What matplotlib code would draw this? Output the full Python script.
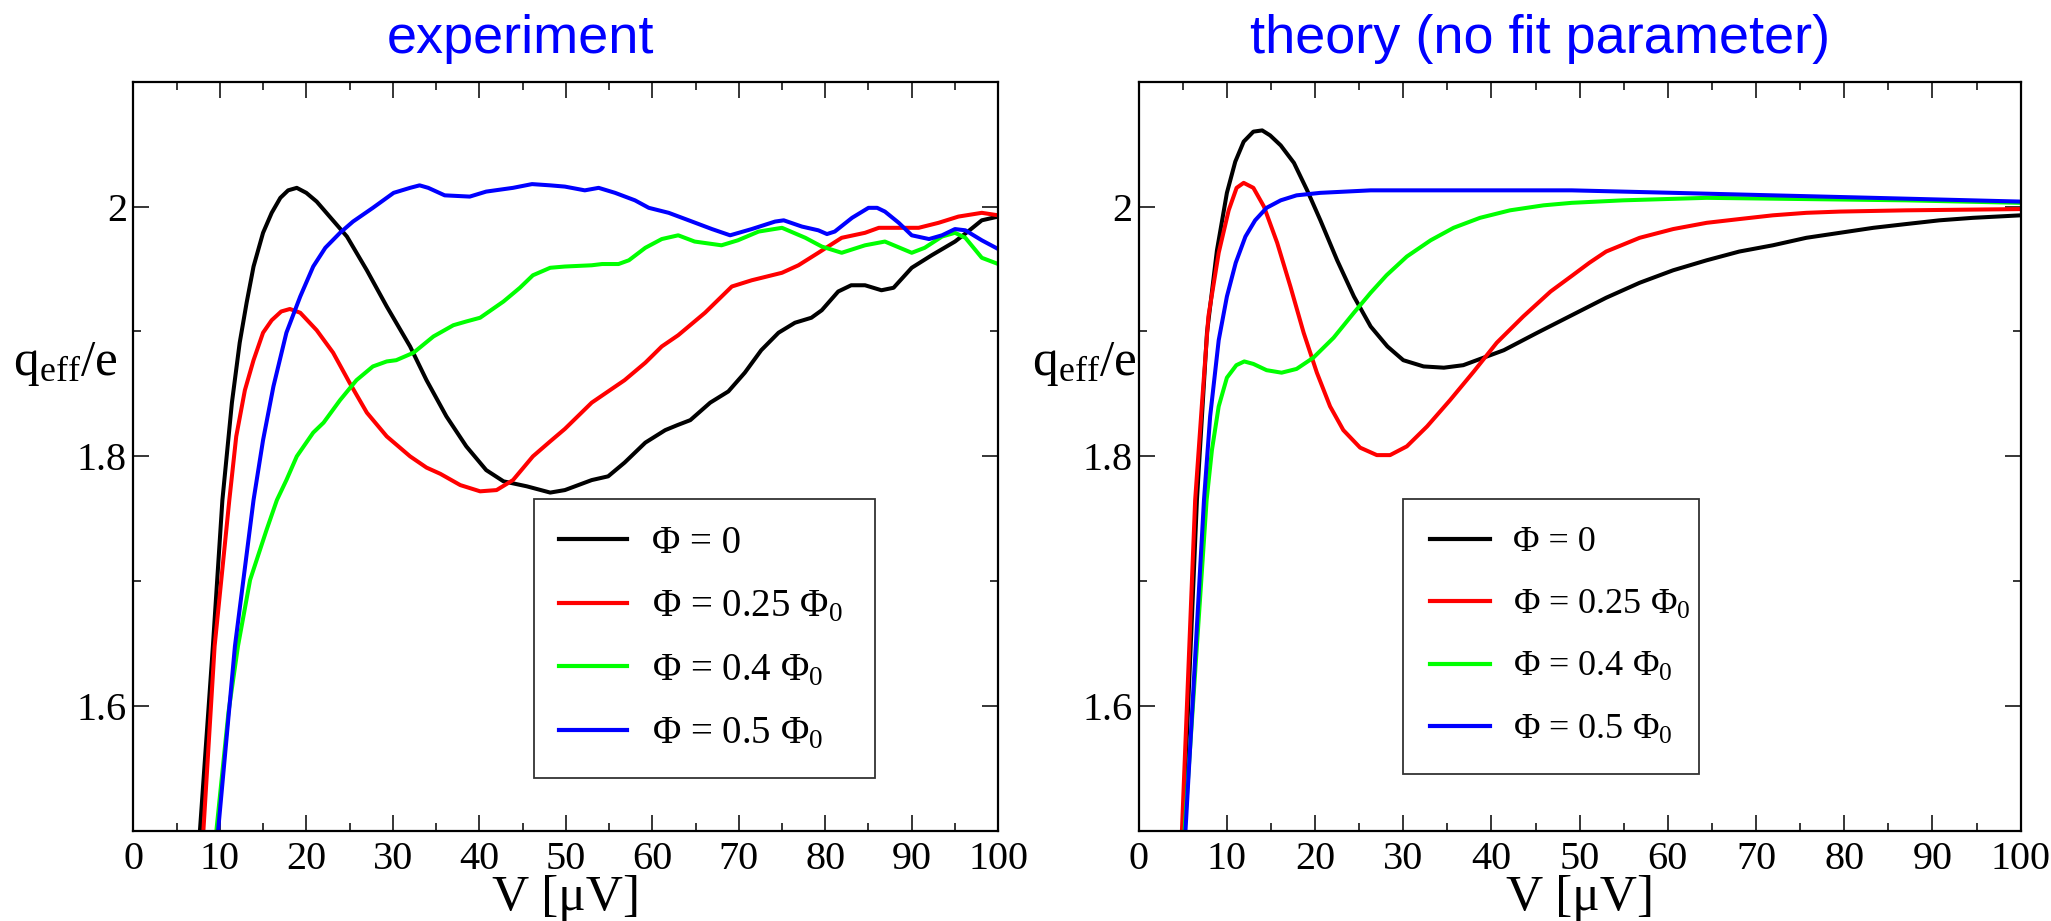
import matplotlib
matplotlib.use('Agg')
import matplotlib.pyplot as plt
from matplotlib.ticker import MultipleLocator

plt.rcParams['font.family'] = ['Liberation Serif', 'DejaVu Serif']
plt.rcParams['mathtext.fontset'] = 'custom'
plt.rcParams['mathtext.rm'] = 'Liberation Serif'
plt.rcParams['mathtext.it'] = 'Liberation Serif:italic'

# ---- experiment ----
exp_v_phi0 = [7.7, 9.2, 10.3, 11.4, 12.3, 13.1, 13.9, 15.0, 16.0, 17.0, 17.9, 18.9, 20.0, 21.2,
              22.7, 24.7, 27.0, 29.3, 32.0, 33.9, 36.2, 38.5, 40.8, 42.8, 45.5, 48.2, 49.9, 53.0,
              54.9, 56.8, 59.2, 61.5, 62.9, 64.4, 66.7, 68.8, 70.7, 72.6, 74.6, 76.5, 78.4, 79.6,
              81.5, 83.0, 84.6, 86.5, 87.9, 90.0, 92.3, 95.0, 96.5, 98.1, 100.0]
exp_q_phi0 = [1.500, 1.648, 1.765, 1.843, 1.891, 1.923, 1.952, 1.979, 1.995, 2.007, 2.013, 2.015, 2.011, 2.004,
              1.992, 1.976, 1.949, 1.920, 1.888, 1.861, 1.832, 1.808, 1.789, 1.780, 1.776, 1.771, 1.773, 1.781,
              1.784, 1.795, 1.811, 1.821, 1.825, 1.829, 1.843, 1.852, 1.867, 1.885, 1.899, 1.907, 1.911, 1.917,
              1.932, 1.937, 1.937, 1.933, 1.935, 1.951, 1.961, 1.972, 1.980, 1.989, 1.992]

exp_v_phi025 = [8.1, 9.4, 11.1, 11.9, 12.9, 13.9, 15.0, 16.0, 17.1, 18.1, 19.3, 21.2, 23.1, 25.0,
                27.0, 29.3, 32.0, 33.9, 35.5, 37.8, 40.1, 42.0, 43.9, 46.2, 48.2, 49.9, 53.0, 56.8,
                59.2, 61.1, 63.0, 66.1, 69.2, 71.5, 75.0, 76.9, 79.2, 81.9, 84.6, 86.2, 90.8, 93.1,
                95.4, 98.1, 100.0]
exp_q_phi025 = [1.500, 1.648, 1.765, 1.816, 1.853, 1.877, 1.899, 1.909, 1.916, 1.918, 1.915, 1.901, 1.883, 1.859,
                1.835, 1.816, 1.800, 1.791, 1.786, 1.777, 1.772, 1.773, 1.781, 1.800, 1.812, 1.822, 1.843, 1.861,
                1.875, 1.888, 1.897, 1.915, 1.936, 1.941, 1.947, 1.953, 1.963, 1.975, 1.979, 1.983, 1.983, 1.987,
                1.992, 1.995, 1.993]

exp_v_phi04 = [9.6, 11.0, 12.1, 13.5, 15.4, 16.6, 17.7, 18.9, 20.8, 22.0, 23.9, 25.8, 27.7, 29.3,
               30.4, 32.4, 34.7, 37.0, 38.5, 40.1, 42.8, 44.7, 46.2, 48.2, 49.9, 53.0, 54.2, 56.1,
               57.3, 59.2, 61.1, 63.0, 64.9, 68.0, 69.9, 72.3, 75.0, 77.7, 79.6, 81.9, 84.6, 86.9,
               90.0, 91.5, 93.5, 95.0, 96.2, 98.1, 100.0]
exp_q_phi04 = [1.500, 1.595, 1.648, 1.701, 1.741, 1.765, 1.781, 1.800, 1.819, 1.827, 1.845, 1.861, 1.872, 1.876,
               1.877, 1.883, 1.896, 1.905, 1.908, 1.911, 1.924, 1.935, 1.945, 1.951, 1.952, 1.953, 1.954, 1.954,
               1.957, 1.967, 1.974, 1.977, 1.972, 1.969, 1.973, 1.980, 1.983, 1.975, 1.968, 1.963, 1.969, 1.972,
               1.963, 1.967, 1.976, 1.979, 1.975, 1.959, 1.954]

exp_v_phi05 = [9.8, 11.75, 13.9, 15.0, 16.2, 17.7, 19.3, 20.8, 22.2, 23.9, 25.4, 27.7, 30.1, 32.0,
               33.1, 34.1, 36.0, 38.9, 40.8, 43.9, 46.1, 48.2, 49.9, 52.2, 53.8, 55.7, 58.0, 59.6,
               61.9, 64.6, 66.9, 69.0, 71.5, 74.2, 75.2, 77.3, 79.2, 80.2, 81.1, 83.1, 85.0, 86.0,
               86.9, 88.5, 90.0, 92.0, 93.5, 95.0, 96.2, 98.1, 100.0]
exp_q_phi05 = [1.500, 1.648, 1.765, 1.813, 1.856, 1.899, 1.928, 1.952, 1.967, 1.979, 1.988, 1.999, 2.011, 2.015,
               2.017, 2.015, 2.009, 2.008, 2.012, 2.015, 2.018, 2.017, 2.016, 2.013, 2.015, 2.011, 2.005, 1.999,
               1.995, 1.988, 1.982, 1.977, 1.982, 1.988, 1.989, 1.984, 1.981, 1.978, 1.980, 1.991, 1.999, 1.999,
               1.996, 1.987, 1.977, 1.974, 1.977, 1.982, 1.981, 1.973, 1.966]

# ---- theory ----
th_v_phi0 = [5.0, 6.6, 7.74, 8.87, 10.0, 10.95, 11.9, 13.0, 14.0, 14.9, 16.1, 17.6, 19.1, 20.6,
             22.5, 24.4, 26.3, 28.2, 30.0, 32.3, 34.6, 36.8, 39.1, 41.4, 45.2, 49.1, 53.0, 56.8,
             60.6, 64.4, 68.1, 71.9, 75.7, 79.5, 83.3, 87.0, 90.8, 94.6, 100.0]
th_q_phi0 = [1.500, 1.765, 1.899, 1.965, 2.011, 2.036, 2.052, 2.060, 2.061, 2.057, 2.049, 2.035, 2.013, 1.989,
             1.957, 1.928, 1.904, 1.888, 1.877, 1.872, 1.871, 1.873, 1.879, 1.885, 1.899, 1.913, 1.927, 1.939,
             1.949, 1.957, 1.964, 1.969, 1.975, 1.979, 1.983, 1.986, 1.989, 1.991, 1.993]

th_v_phi025 = [4.9, 6.4, 7.2, 7.9, 9.07, 10.2, 11.1, 11.9, 13.0, 14.2, 15.7, 17.2, 18.7, 20.2,
               21.7, 23.2, 25.1, 27.0, 28.5, 30.4, 32.7, 35.3, 38.0, 40.6, 43.6, 46.7, 49.2, 51.1,
               53.0, 56.8, 60.6, 64.4, 68.1, 71.9, 75.7, 79.5, 87.0, 100.0]
th_q_phi025 = [1.500, 1.765, 1.845, 1.912, 1.963, 1.997, 2.015, 2.019, 2.015, 2.000, 1.971, 1.936, 1.899, 1.867,
               1.840, 1.821, 1.807, 1.801, 1.801, 1.808, 1.824, 1.845, 1.868, 1.891, 1.912, 1.932, 1.945, 1.955,
               1.964, 1.975, 1.982, 1.987, 1.990, 1.993, 1.995, 1.996, 1.997, 1.998]

th_v_phi04 = [5.2, 7.7, 8.3, 9.07, 10.0, 11.07, 11.97, 13.0, 14.5, 16.2, 17.9, 19.8, 22.1, 24.4,
              26.3, 28.1, 30.4, 33.1, 35.7, 38.7, 42.1, 45.9, 49.1, 54.9, 64.4, 75.7, 87.0, 100.0]
th_q_phi04 = [1.500, 1.765, 1.805, 1.840, 1.863, 1.873, 1.876, 1.874, 1.869, 1.867, 1.870, 1.879, 1.895, 1.915,
              1.931, 1.945, 1.960, 1.973, 1.983, 1.991, 1.997, 2.001, 2.003, 2.005, 2.007, 2.006, 2.005, 2.003]

th_v_phi05 = [5.3, 7.4, 8.1, 9.07, 10.0, 11.0, 12.1, 13.2, 14.5, 16.1, 17.9, 20.6, 26.3, 33.8,
              41.4, 49.1, 60.6, 71.9, 83.3, 100.0]
th_q_phi05 = [1.500, 1.765, 1.832, 1.893, 1.928, 1.955, 1.976, 1.989, 1.999, 2.005, 2.009, 2.011, 2.013, 2.013,
              2.013, 2.013, 2.011, 2.009, 2.007, 2.004]

labels = ['Φ = 0', 'Φ = 0.25 Φ$_{0}$', 'Φ = 0.4 Φ$_{0}$', 'Φ = 0.5 Φ$_{0}$']
colors = ['#000000', '#ff0000', '#00ff00', '#0000ff']

exp_curves = [(exp_v_phi0, exp_q_phi0), (exp_v_phi025, exp_q_phi025),
              (exp_v_phi04, exp_q_phi04), (exp_v_phi05, exp_q_phi05)]
th_curves = [(th_v_phi0, th_q_phi0), (th_v_phi025, th_q_phi025),
             (th_v_phi04, th_q_phi04), (th_v_phi05, th_q_phi05)]

fig = plt.figure(figsize=(20.51, 9.21), dpi=100)
ax1 = fig.add_axes([0.0650, 0.0977, 0.4217, 0.8136])
ax2 = fig.add_axes([0.5552, 0.0977, 0.4300, 0.8136])


def style_axis(ax, title, title_x, ylab_x, leg_box, leg_fs, leg_hl, leg_pad, leg_sp):
    ax.set_xlim(0, 100)
    ax.set_ylim(1.5, 2.1)
    ax.xaxis.set_major_locator(MultipleLocator(10))
    ax.xaxis.set_minor_locator(MultipleLocator(5))
    ax.yaxis.set_minor_locator(MultipleLocator(0.1))
    ax.set_yticks([1.6, 1.8, 2.0])
    ax.set_yticklabels(['1.6', '1.8', '2'])
    ax.tick_params(which='both', direction='in', top=True, right=True, width=1.1)
    ax.tick_params(which='major', length=11.5, labelsize=29)
    ax.tick_params(which='minor', length=5.5)
    ax.tick_params(axis='x', pad=7)
    ax.tick_params(axis='y', pad=4.5)
    for s in ax.spines.values():
        s.set_linewidth(1.6)

    ax.set_xlabel('V [μV]', fontsize=37, va='baseline')
    ax.xaxis.set_label_coords(0.5, -0.1054)
    ax.set_ylabel(r'q$_{\rm eff}$/e', fontsize=37, rotation=0, ha='left', va='baseline')
    ax.yaxis.set_label_coords(ylab_x, 0.6086)

    ax.text(title_x, 1.0383, title, transform=ax.transAxes, ha='center', va='baseline',
            fontsize=39, color='#0000ff', family='Liberation Sans')

    leg = ax.legend(loc='upper left', bbox_to_anchor=leg_box, mode='expand', fontsize=leg_fs,
                    handlelength=leg_hl, handletextpad=0.65, borderpad=leg_pad, labelspacing=leg_sp,
                    borderaxespad=0, fancybox=False, framealpha=1, edgecolor='#333333')
    leg.get_frame().set_linewidth(1.3)
    for line in leg.get_lines():
        line.set_linewidth(3.0)


for (v, q), c, lab in zip(exp_curves, colors, labels):
    ax1.plot(v, q, color=c, linewidth=2.9, label=lab)
for (v, q), c, lab in zip(th_curves, colors, labels):
    ax2.plot(v, q, color=c, linewidth=2.9, label=lab)

style_axis(ax1, 'experiment', 0.448, -0.139, (0.463, 0.0783, 0.3946, 0.3644),
           28, 1.74, 0.66, 0.68)
style_axis(ax2, 'theory (no fit parameter)', 0.455, -0.121, (0.300, 0.0783, 0.335, 0.3644),
           26, 1.65, 0.74, 0.81)

fig.savefig('out.png', dpi=100)
